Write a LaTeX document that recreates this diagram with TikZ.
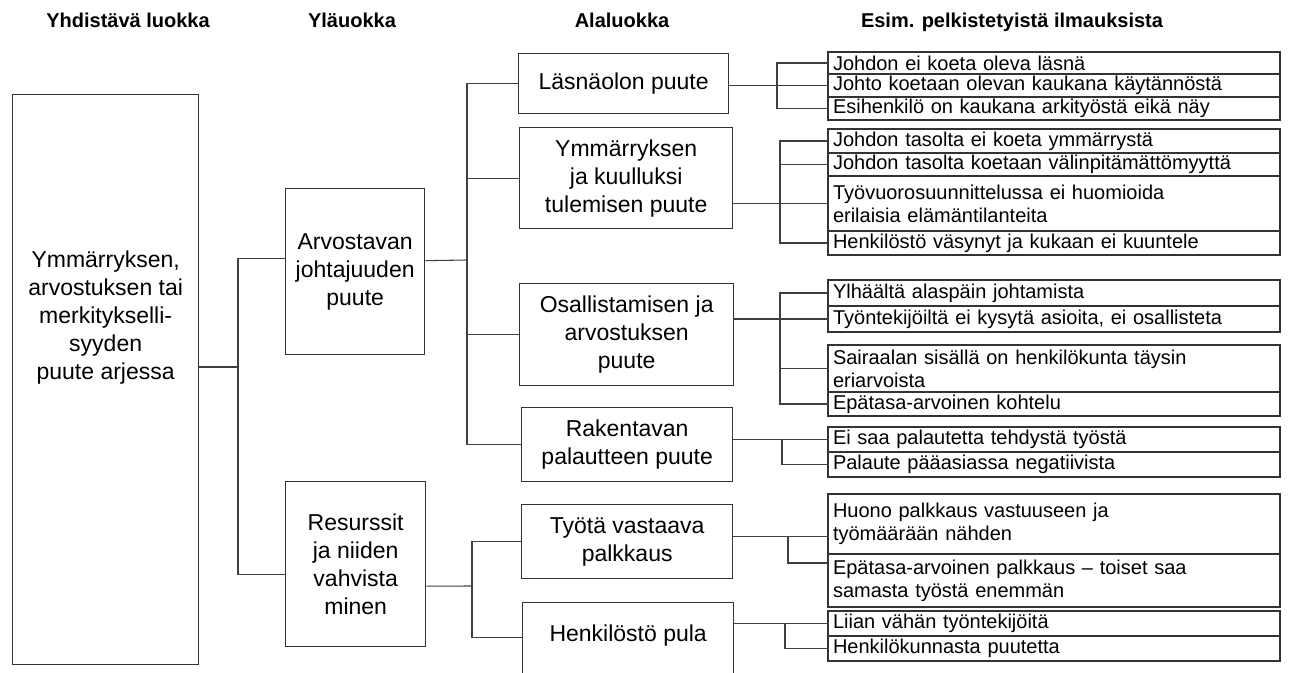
\documentclass[tikz,border=0pt]{standalone}
\usepackage{fontspec}
\setmainfont{Liberation Sans}
\usetikzlibrary{calc,positioning}

\begin{document}
\begin{tikzpicture}[x=0.75pt, y=-0.75pt,
    head/.style={font=\fontsize{15}{18}\selectfont\bfseries, anchor=base},
    box/.style={draw=black!80, line width=1pt, anchor=north west, align=center,
                inner sep=0pt, font=\fontsize{17.25}{21}\selectfont},
    bigtxt/.style={align=center, inner sep=0pt, font=\fontsize{17.25}{21}\selectfont},
    exrow/.style={draw=black!80, line width=1pt, anchor=north west, outer sep=0pt,
                  text width=331.5pt, inner xsep=3.75pt, inner ysep=0pt, align=left,
                  font=\fontsize{15}{17.25}\selectfont},
    conn/.style={draw=black!75, line width=0.8pt},
]
  \useasboundingbox (0,0) rectangle (1295,673);
  \clip (0,0) rectangle (1295,673);

  % Column headers
  \node[head] (h1) at (128,28) {Yhdistävä luokka};
  \node[head] (h2) at (352,28) {Yläuokka};
  \node[head] (h3) at (622,28) {Alaluokka};
  \node[head] (h4) at (1012,28) {Esim. pelkistetyistä ilmauksista};

  % Combining category
  \node[box, minimum width=139.5pt, minimum height=427.5pt,
        label={[bigtxt, yshift=46.5pt]center:{Ymmärryksen,\\arvostuksen tai\\merkitykselli-\\syyden\\puute arjessa}}]
        (yhd) at (12,94) {};

  % Upper categories
  \node[box, minimum width=104.25pt, minimum height=124.5pt] (arvo) at (285,188)
    {Arvostavan\\johtajuuden\\puute};
  \node[box, minimum width=105pt, minimum height=123.75pt] (resu) at (285,481)
    {Resurssit\\ja niiden\\vahvista\\minen};

  % Sub categories
  \node[box, minimum width=157.5pt, minimum height=45pt] (lasna) at (518,53)
    {Läsnäolon puute};
  \node[box, minimum width=159.75pt, minimum height=75.75pt] (ymm) at (519,127)
    {Ymmärryksen\\ja kuulluksi\\tulemisen puute};
  \node[box, minimum width=160.5pt, minimum height=76.5pt] (osal) at (519,283)
    {Osallistamisen ja\\arvostuksen\\puute};
  \node[box, minimum width=158.25pt, minimum height=55.5pt] (rak) at (521,407)
    {Rakentavan\\palautteen puute};
  \node[box, minimum width=158.25pt, minimum height=55.5pt] (tyota) at (521,504)
    {Työtä vastaava\\palkkaus};
  \node[box, minimum width=158.25pt, minimum height=63.75pt, text depth=17.8pt] (henk) at (522,602)
    {Henkilöstö pula};

  % Example expressions
  \node[exrow, minimum height=16.5pt] (e1a) at (828,52) {Johdon ei koeta oleva läsnä};
  \node[exrow, minimum height=17.25pt, below=0pt of e1a] (e1b) {Johto koetaan olevan kaukana käytännöstä};
  \node[exrow, minimum height=17.25pt, below=0pt of e1b] (e1c) {Esihenkilö on kaukana arkityöstä eikä näy};

  \node[exrow, minimum height=18pt] (e2a) at (828,129) {Johdon tasolta ei koeta ymmärrystä};
  \node[exrow, minimum height=17.25pt, below=0pt of e2a] (e2b) {Johdon tasolta koetaan välinpitämättömyyttä};
  \node[exrow, minimum height=41.25pt, below=0pt of e2b] (e2c) {Työvuorosuunnittelussa ei huomioida\\erilaisia elämäntilanteita};
  \node[exrow, minimum height=18pt, below=0pt of e2c] (e2d) {Henkilöstö väsynyt ja kukaan ei kuuntele};

  \node[exrow, minimum height=19.5pt] (e3a) at (828,280) {Ylhäältä alaspäin johtamista};
  \node[exrow, minimum height=19.5pt, below=0pt of e3a] (e3b) {Työntekijöiltä ei kysytä asioita, ei osallisteta};
  \node[exrow, minimum height=35.25pt] (e3c) at (828,345) {Sairaalan sisällä on henkilökunta täysin\\eriarvoista};
  \node[exrow, minimum height=18pt, below=0pt of e3c] (e3d) {Epätasa-arvoinen kohtelu};

  \node[exrow, minimum height=18.75pt] (e4a) at (828,427) {Ei saa palautetta tehdystä työstä};
  \node[exrow, minimum height=18.75pt, below=0pt of e4a] (e4b) {Palaute pääasiassa negatiivista};

  \node[exrow, minimum height=45pt] (e5a) at (828,494) {Huono palkkaus vastuuseen ja\\työmäärään nähden};
  \node[exrow, minimum height=39.75pt, below=0pt of e5a] (e5b) {Epätasa-arvoinen palkkaus – toiset saa\\samasta työstä enemmän};

  \node[exrow, minimum height=18.75pt] (e6a) at (828,611) {Liian vähän työntekijöitä};
  \node[exrow, minimum height=18.75pt, below=0pt of e6a] (e6b) {Henkilökunnasta puutetta};

  % Tree connectors
  \coordinate (jA) at (238,367);
  \draw[conn] (jA -| yhd.east) -- (jA);
  \draw[conn] ($(arvo.west)+(0,-13)$) -| (jA) |- ($(resu.west)+(0,10)$);

  \coordinate (jB) at (467,260);
  \draw[conn] ($(arvo.east)+(0,-11)$) -- (jB);
  \draw[conn] (lasna.west) -| (jB) |- (rak.west);
  \draw[conn] (ymm.west) -- (ymm.west -| jB);
  \draw[conn] (osal.west) -- (osal.west -| jB);

  \coordinate (jC) at (472,586);
  \draw[conn] ($(resu.east)+(0,22)$) -- (jC);
  \draw[conn] (tyota.west) -| (jC) |- ($(henk.west)+(0,-8)$);

  % Brackets to examples
  \coordinate (b1) at (777,0);
  \coordinate (b2) at (780,0);
  \coordinate (b3) at (780,0);
  \coordinate (b4) at (782,0);
  \coordinate (b5) at (788,0);
  \coordinate (b6) at (785,0);

  \draw[conn] (e1b.west -| lasna.east) -- (e1b.west);
  \draw[conn] (e1a.west) -| (b1 |- e1c.west) -- (e1c.west);

  \draw[conn] (e2c.west -| ymm.east) -- (e2c.west);
  \draw[conn] (e2a.west) -| (b2 |- e2d.west) -- (e2d.west);
  \draw[conn] (e2b.west) -- (e2b.west -| b2);

  \draw[conn] (e3b.west -| osal.east) -- (e3b.west);
  \draw[conn] (e3a.west) -| (b3 |- e3d.west) -- (e3d.west);
  \draw[conn] (e3c.west) -- (e3c.west -| b3);

  \draw[conn] (e4a.west -| rak.east) -- (e4a.west);
  \draw[conn] (b4 |- e4a.west) |- (e4b.west);

  \coordinate (m5) at ($(tyota.east)+(0,-5)$);
  \draw[conn] (m5) -- (m5 -| e5a.west);
  \draw[conn] (b5 |- m5) |- ($(e5b.north west)+(0,9)$);

  \draw[conn] (e6a.west -| henk.east) -- (e6a.west);
  \draw[conn] (b6 |- e6a.west) |- (e6b.west);
\end{tikzpicture}
\end{document}
